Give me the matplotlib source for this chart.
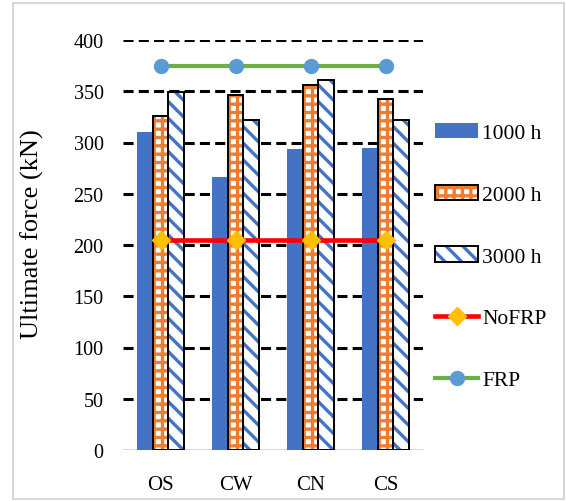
import numpy as np
import matplotlib
matplotlib.use("Agg")
import matplotlib.pyplot as plt
from matplotlib.patches import Rectangle

# datos
categorias = ["OS", "CW", "CN", "CS"]
f_1000h = [310, 266, 294, 295]
f_2000h = [326, 346, 356, 342]
f_3000h = [349, 322, 361, 322]
no_frp = [205, 205, 205, 205]
con_frp = [375, 375, 375, 375]
yticks = [0, 50, 100, 150, 200, 250, 300, 350, 400]

plt.rcParams["font.family"] = ["Liberation Serif", "DejaVu Serif"]
plt.rcParams["hatch.linewidth"] = 2.4

azul = "#4472C4"
naranja = "#ED7D31"

fig = plt.figure(figsize=(5.66, 5.02), dpi=100)
# marco gris alrededor de la figura
fig.patches.append(Rectangle((13 / 566, 1 - 500 / 502), 551 / 566, 496 / 502,
                             transform=fig.transFigure, fill=False,
                             edgecolor="#d0d0d0", linewidth=1.2))

ax = fig.add_axes([123 / 566, 1 - 451 / 502, 300 / 566, 410 / 502])
x = np.arange(len(categorias))
w = 0.213

b1 = ax.bar(x - w, f_1000h, w, color=azul, linewidth=0, zorder=2)
# barras con trama: primero la trama, luego el borde negro encima
b2h = ax.bar(x, f_2000h, w, facecolor="white", edgecolor=naranja, hatch="++",
             linewidth=0, zorder=2)
b2e = ax.bar(x, f_2000h, w, fill=False, edgecolor="black", linewidth=1.4, zorder=3)
b3h = ax.bar(x + w, f_3000h, w, facecolor="white", edgecolor=azul, hatch="\\\\",
             linewidth=0, zorder=2)
b3e = ax.bar(x + w, f_3000h, w, fill=False, edgecolor="black", linewidth=1.4, zorder=3)

l1, = ax.plot(x, no_frp, color="red", lw=3.3, marker="D", ms=9.5,
              mfc="#FFC000", mec="#FFC000", zorder=5)
l2, = ax.plot(x, con_frp, color="#70AD47", lw=3.0, marker="o", ms=10,
              mfc="#5B9BD5", mec="#5B9BD5", zorder=5)

ax.set_xlim(-0.5, 3.5)
ax.set_ylim(0, 400)
ax.set_yticks(yticks)
ax.set_xticks(x)
ax.set_xticklabels(categorias)
ax.tick_params(axis="y", length=0, pad=14, labelsize=14.5)
ax.tick_params(axis="x", length=0, pad=18, labelsize=15)

ax.grid(axis="y", color="black", lw=2.2, ls=(0, (3.3, 1.7)), zorder=0)
ax.set_axisbelow(True)
ax.get_ygridlines()[0].set_visible(False)
for s in ax.spines.values():
    s.set_visible(False)
ax.axhline(0, color="#d9d9d9", lw=1.5, zorder=1)

ax.set_ylabel("Ultimate force (kN)", fontsize=19)
ax.yaxis.set_label_coords(-0.263, 0.53)

fig.legend([b1, (b2h, b2e), (b3h, b3e), l1, l2],
           ["1000 h", "2000 h", "3000 h", "NoFRP", "FRP"],
           loc="center left", bbox_to_anchor=(435 / 566, 0.487),
           frameon=False, fontsize=15.5, labelspacing=1.94,
           handlelength=2.0, handletextpad=0.2, borderpad=0, borderaxespad=0)

fig.savefig("out.png", dpi=100)
